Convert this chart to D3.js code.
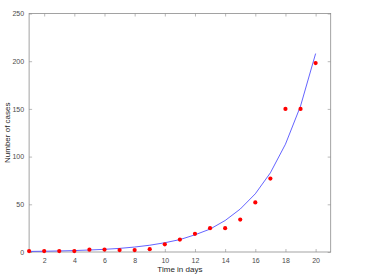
<!DOCTYPE html>
<html>
<head>
<meta charset="utf-8">
<script src="https://cdn.jsdelivr.net/npm/d3@7"></script>
<style>
    body { margin: 0; background: #fff; }
    svg { display: block; font-family: "Liberation Sans", Arial, sans-serif; }
    .tick text { fill: #4a4a4a; font-size: 7px; }
    .axis-label { fill: #262626; font-size: 8px; }
</style>
</head>
<body>
<svg id="chart" width="376" height="276"></svg>
<script>
var width = 376;
var height = 276;
var margin = { top: 13.5, right: 45.3, bottom: 24, left: 29.1 };

// observed cases per day
var days = [1, 2, 3, 4, 5, 6, 7, 8, 9, 10, 11, 12, 13, 14, 15, 16, 17, 18, 19, 20];
var cases = [1, 1, 1, 1, 2.4, 2.5, 2, 2, 3, 8, 13, 19, 25, 25, 34, 52, 77, 150, 150, 198];
// fitted curve at each day
var fitted = [0.6, 0.8, 1.1, 1.5, 2.1, 2.8, 3.8, 5.2, 7.1, 9.7, 13, 18, 24, 33, 45, 61, 83, 113, 153, 208];

var xTicks = [2, 4, 6, 8, 10, 12, 14, 16, 18, 20];
var yTicks = [0, 50, 100, 150, 200, 250];

var svg = d3.select('#chart');
var plotW = width - margin.left - margin.right;
var plotH = height - margin.top - margin.bottom;

var x = d3.scaleLinear().domain([1, 21]).range([margin.left, margin.left + plotW]);
var y = d3.scaleLinear().domain([0, 250]).range([margin.top + plotH, margin.top]);

var axisColor = '#8c8c8c';

function styleAxis(g) {
    g.select('.domain').remove();
    g.selectAll('.tick line').attr('stroke', axisColor).attr('stroke-width', 0.6);
}

// bottom and top
svg.append('g')
    .attr('transform', 'translate(0,' + (margin.top + plotH) + ')')
    .call(d3.axisBottom(x).tickValues(xTicks).tickSize(-3).tickPadding(6))
    .call(styleAxis);
svg.append('g')
    .attr('transform', 'translate(0,' + margin.top + ')')
    .call(d3.axisTop(x).tickValues(xTicks).tickSize(-3).tickFormat(''))
    .call(styleAxis);
// left and right
svg.append('g')
    .attr('transform', 'translate(' + margin.left + ',0)')
    .call(d3.axisLeft(y).tickValues(yTicks).tickSize(-3).tickPadding(5))
    .call(styleAxis);
svg.append('g')
    .attr('transform', 'translate(' + (margin.left + plotW) + ',0)')
    .call(d3.axisRight(y).tickValues(yTicks).tickSize(-3).tickFormat(''))
    .call(styleAxis);

svg.append('rect')
    .attr('x', margin.left)
    .attr('y', margin.top)
    .attr('width', plotW)
    .attr('height', plotH)
    .attr('fill', 'none')
    .attr('stroke', axisColor)
    .attr('stroke-width', 0.8);

var line = d3.line()
    .x(function(d, i) { return x(days[i]); })
    .y(function(d) { return y(d); });

svg.append('path')
    .datum(fitted)
    .attr('d', line)
    .attr('fill', 'none')
    .attr('stroke', '#3c3cff')
    .attr('stroke-width', 0.8);

svg.append('g')
    .selectAll('circle')
    .data(cases)
    .join('circle')
    .attr('cx', function(d, i) { return x(days[i]); })
    .attr('cy', function(d) { return y(d); })
    .attr('r', 2.1)
    .attr('fill', '#ff0000');

svg.append('text')
    .attr('class', 'axis-label')
    .attr('x', margin.left + plotW / 2)
    .attr('y', 272)
    .attr('text-anchor', 'middle')
    .text('Time in days');

svg.append('text')
    .attr('class', 'axis-label')
    .attr('transform', 'translate(10,' + (margin.top + plotH / 2) + ') rotate(-90)')
    .attr('text-anchor', 'middle')
    .text('Number of cases');
</script>
</body>
</html>
